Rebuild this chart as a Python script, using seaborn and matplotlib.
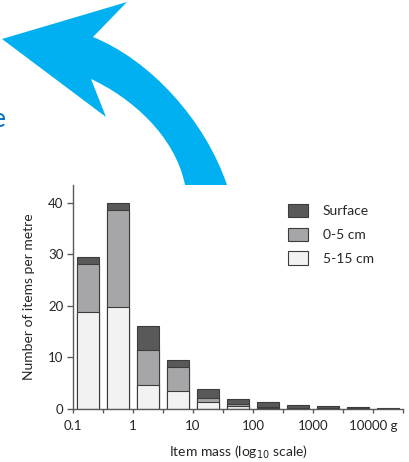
import numpy as np
import pandas as pd
import matplotlib
matplotlib.use("Agg")
import matplotlib.pyplot as plt
from matplotlib.path import Path
from matplotlib.patches import PathPatch, Patch
import seaborn as sns

# ---- data ----
bins = ["b1", "b2", "b3", "b4", "b5", "b6", "b7", "b8", "b9", "b10", "b11"]
deep = [18.7, 19.8, 4.6, 3.4, 1.4, 0.6, 0.25, 0.1, 0.1, 0.05, 0.0]      # 5-15 cm
mid = [9.4, 18.8, 6.8, 4.8, 0.7, 0.3, 0.2, 0.1, 0.05, 0.05, 0.0]       # 0-5 cm
surface = [1.4, 1.4, 4.7, 1.2, 1.8, 1.0, 0.85, 0.6, 0.5, 0.35, 0.15]   # Surface
series_labels = ["Surface", "0-5 cm", "5-15 cm"]
xtick_labels = ["0.1", "1", "10", "100", "1000", "10000 g"]
ytick_vals = [0, 10, 20, 30, 40]

sns.set_theme(style="white")
plt.rcParams["font.family"] = ["Lato", "DejaVu Sans"]

c_surf = "#595959"
c_mid = "#a6a6a8"
c_deep = "#f2f2f2"
c_edge = "#3c3c3c"
c_axis = "#5a5a5a"
c_text = "#262626"

fig = plt.figure(figsize=(4.10, 4.62), dpi=100)

# background overlay (decoration)
bg = fig.add_axes([0, 0, 1, 1], zorder=0)
bg.set_xlim(0, 410)
bg.set_ylim(462, 0)
bg.axis("off")
verts = [
    (227, 185),
    (205, 120), (150, 60), (93, 37),
    (127, 2),
    (2, 39),
    (106, 117),
    (91, 79),
    (130, 97), (175, 135), (185, 185),
    (227, 185),
]
codes = [Path.MOVETO,
         Path.CURVE4, Path.CURVE4, Path.CURVE4,
         Path.LINETO, Path.LINETO, Path.LINETO, Path.LINETO,
         Path.CURVE4, Path.CURVE4, Path.CURVE4,
         Path.CLOSEPOLY]
bg.add_patch(PathPatch(Path(verts, codes), facecolor="#00b0f0", edgecolor="none"))
bg.text(6, 127, "e", color="#0070c0", fontsize=19, ha="right", va="baseline")

# main chart
ax = fig.add_axes([73 / 410, 53 / 462, 330 / 410, 224 / 462], zorder=1)
ax.set_facecolor("none")

df = pd.DataFrame({"bin": bins, "deep": deep, "mid": mid, "surface": surface})
df["top_all"] = df["deep"] + df["mid"] + df["surface"]
df["top_mid"] = df["deep"] + df["mid"]

w = 0.73
sns.barplot(data=df, x="bin", y="top_all", color=c_surf, saturation=1, width=w,
            edgecolor=c_edge, linewidth=0.8, ax=ax)
sns.barplot(data=df, x="bin", y="top_mid", color=c_mid, saturation=1, width=w,
            edgecolor=c_edge, linewidth=0.8, ax=ax)
sns.barplot(data=df, x="bin", y="deep", color=c_deep, saturation=1, width=w,
            edgecolor=c_edge, linewidth=0.8, ax=ax)

ax.set_xlim(-0.5, len(bins) - 0.5)
ax.set_ylim(0, 43.4)
ax.set_yticks(ytick_vals)
ax.set_yticklabels([str(v) for v in ytick_vals])

ax.set_xticks(np.arange(-0.5, len(bins), 1.0), minor=False)
lab = []
for i in range(len(bins) + 1):
    lab.append(xtick_labels[i // 2] if i % 2 == 0 and i // 2 < len(xtick_labels) else "")
ax.set_xticklabels(lab)

for s in ["top", "right"]:
    ax.spines[s].set_visible(False)
for s in ["left", "bottom"]:
    ax.spines[s].set_color(c_axis)
    ax.spines[s].set_linewidth(1.0)

ax.tick_params(axis="both", which="major", direction="out", length=4, width=1.0,
               color=c_axis, labelcolor=c_text, labelsize=9.5, pad=3, bottom=True, left=True)
ax.tick_params(axis="x", length=3, pad=5)

ax.set_xlabel(r"Item mass (log$_{10}$ scale)", fontsize=10, color=c_text, labelpad=8)
ax.set_ylabel("Number of items per metre", fontsize=10, color=c_text, labelpad=9)

handles = [Patch(facecolor=c_surf, edgecolor=c_edge, linewidth=0.8),
           Patch(facecolor=c_mid, edgecolor=c_edge, linewidth=0.8),
           Patch(facecolor=c_deep, edgecolor=c_edge, linewidth=0.8)]
leg = fig.legend(handles, series_labels, loc="upper left",
                 bbox_to_anchor=(288 / 410, 1 - 204 / 462), frameon=False,
                 fontsize=10, handlelength=1.44, handleheight=1.08,
                 handletextpad=1.05, labelspacing=0.75, borderpad=0, borderaxespad=0)
for t in leg.get_texts():
    t.set_color(c_text)

fig.savefig("out.png", dpi=100)
